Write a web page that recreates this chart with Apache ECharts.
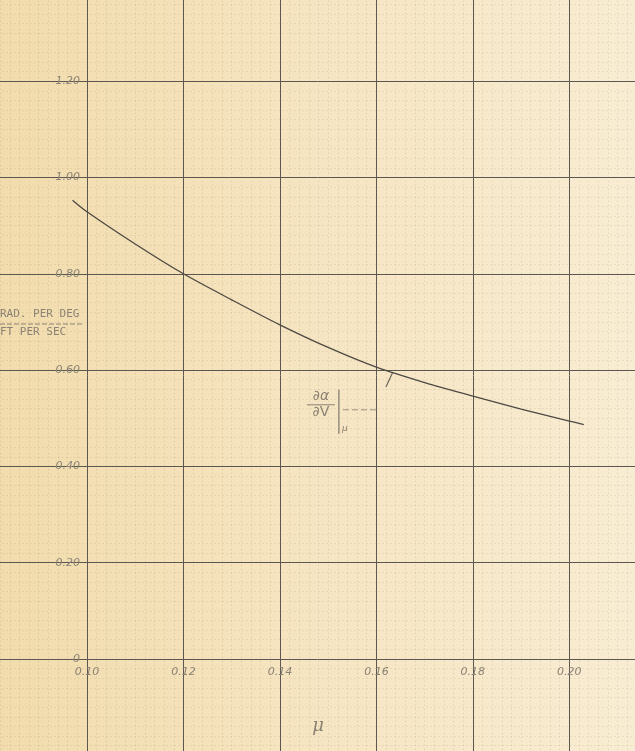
<!DOCTYPE html>
<html>
<head>
<meta charset="utf-8">
<script src="https://cdn.jsdelivr.net/npm/echarts@6/dist/echarts.min.js"></script>
<style>
html,body{margin:0;padding:0;background:#f5e5c0;}
#chart{width:635px;height:751px;}
</style>
</head>
<body>
<div id="chart"></div>
<script>
// ---- data ----
const muValues = [0.097, 0.10, 0.11, 0.12, 0.13, 0.14, 0.15, 0.16, 0.17, 0.18, 0.19, 0.20, 0.203];
const derivValues = [0.953, 0.929, 0.862, 0.800, 0.746, 0.694, 0.647, 0.606, 0.574, 0.546, 0.519, 0.494, 0.487];
const xTickValues = [0.10, 0.12, 0.14, 0.16, 0.18, 0.20];
const xTickLabels = ["0.10", "0.12", "0.14", "0.16", "0.18", "0.20"];
const yTickValues = [0, 0.2, 0.4, 0.6, 0.8, 1.0, 1.2];
const yTickLabels = ["0", "0.20", "0.40", "0.60", "0.80", "1.00", "1.20"];
const xAxisName = "\u03bc";
const yUnitTop = "RAD. PER DEG";
const yUnitBottom = "FT PER SEC";

function pick(values, labels, v) {
  for (let i = 0; i < values.length; i++) {
    if (Math.abs(values[i] - v) < 1e-6) return labels[i];
  }
  return '';
}

const chart = echarts.init(document.getElementById('chart'), null, {renderer: 'canvas'});
const handFont = {color: '#8a8274', fontFamily: 'DejaVu Sans', fontStyle: 'italic', fontSize: 11};
const major = {show: true, lineStyle: {color: '#5c5750', width: 1}};
const minor = {show: true, lineStyle: {color: 'rgba(120,100,70,0.22)', width: 1, type: [1, 3]}};

chart.setOption({
  backgroundColor: {
    type: 'linear', x: 0, y: 0, x2: 1, y2: 0,
    colorStops: [{offset: 0, color: '#f2dcad'}, {offset: 0.5, color: '#f6e5c2'}, {offset: 1, color: '#f8ecd2'}]
  },
  animation: false,
  grid: {left: -9.5, right: -30.8, top: -15.1, bottom: -4.3, containLabel: false, outerBoundsMode: 'none'},
  xAxis: {
    type: 'value', min: 0.08, max: 0.22, interval: 0.02,
    position: 'bottom', offset: -96.3,
    axisLine: {show: false}, axisTick: {show: false},
    splitLine: major,
    minorTick: {show: false, splitNumber: 10},
    minorSplitLine: minor,
    axisLabel: Object.assign({margin: 8, formatter: v => pick(xTickValues, xTickLabels, v)}, handFont),
    name: xAxisName, nameLocation: 'middle', nameGap: 58,
    nameTextStyle: {color: '#8a8274', fontFamily: 'DejaVu Serif', fontStyle: 'italic', fontSize: 18, padding: [0, 20, 0, 0]}
  },
  yAxis: {
    type: 'value', min: -0.2, max: 1.4, interval: 0.2,
    position: 'left', offset: -96.46,
    axisLine: {show: false}, axisTick: {show: false},
    splitLine: major,
    minorTick: {show: false, splitNumber: 10},
    minorSplitLine: minor,
    axisLabel: Object.assign({margin: 7, formatter: v => pick(yTickValues, yTickLabels, v)}, handFont)
  },
  series: [{
    type: 'line', data: muValues.map((m, i) => [m, derivValues[i]]),
    smooth: 0.3, showSymbol: false, silent: true,
    lineStyle: {color: '#4d4943', width: 1.3}
  }]
});

// annotations (placed relative to data coordinates)
const crossPt = chart.convertToPixel({gridIndex: 0}, [0.1628, 0.60]);
const labPt = chart.convertToPixel({gridIndex: 0}, [0.1485, 0.53]);
chart.setOption({
  graphic: [
    {type: 'text', left: 0, top: 309, style: {text: yUnitTop, fill: '#8a8274', font: '11px "DejaVu Sans Mono"'}},
    {type: 'line', shape: {x1: 0, y1: 324, x2: 82, y2: 324}, style: {stroke: '#8a8274', lineWidth: 1, lineDash: [5, 2]}},
    {type: 'text', left: 0, top: 327, style: {text: yUnitBottom, fill: '#8a8274', font: '11px "DejaVu Sans Mono"'}},
    {type: 'line', shape: {x1: crossPt[0] - 4, y1: crossPt[1] + 17, x2: crossPt[0] + 3, y2: crossPt[1] + 2},
      style: {stroke: '#6a655d', lineWidth: 1.2}},
    {type: 'group', x: labPt[0], y: labPt[1], children: [
      {type: 'text', x: 0, y: 0, style: {text: '\u2202\u03b1', fill: '#8a8274', font: 'italic 14px "DejaVu Sans"', align: 'center', verticalAlign: 'bottom'}},
      {type: 'line', shape: {x1: -14, y1: 1, x2: 14, y2: 1}, style: {stroke: '#8a8274', lineWidth: 1}},
      {type: 'text', x: 0, y: 2, style: {text: '\u2202V', fill: '#8a8274', font: '14px "DejaVu Sans"', align: 'center', verticalAlign: 'top'}},
      {type: 'line', shape: {x1: 18, y1: -14, x2: 18, y2: 30}, style: {stroke: '#6a655d', lineWidth: 1}},
      {type: 'text', x: 21, y: 20, style: {text: '\u03bc', fill: '#8a8274', font: 'italic 9px "DejaVu Sans"'}},
      {type: 'line', shape: {x1: 22, y1: 6, x2: 56, y2: 6}, style: {stroke: '#9a9284', lineWidth: 1, lineDash: [6, 3]}}
    ]}
  ]
});
</script>
</body>
</html>
